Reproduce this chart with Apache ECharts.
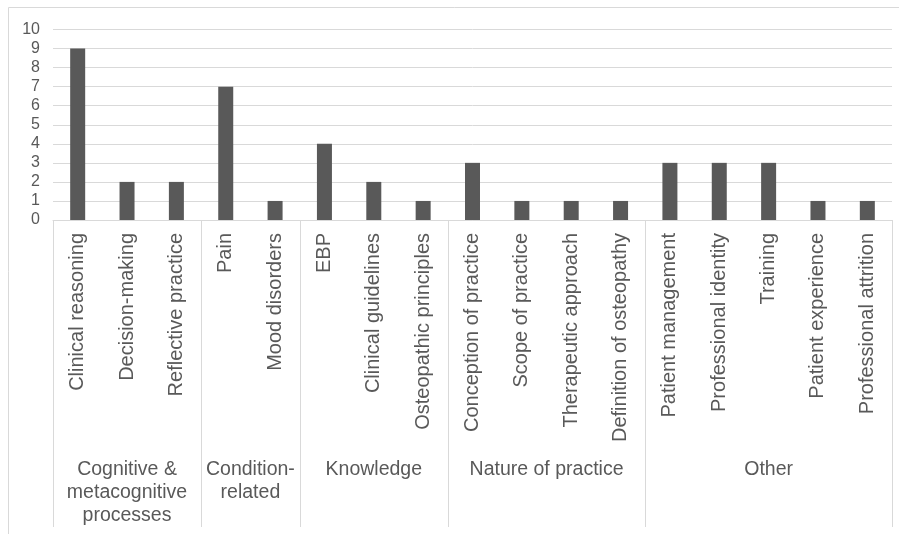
<!DOCTYPE html>
<html>
<head>
<meta charset="utf-8">
<script src="https://cdn.jsdelivr.net/npm/echarts@6/dist/echarts.min.js"></script>
<style>
 html, body { margin: 0; padding: 0; background: #fff; }
 #chart { width: 899px; height: 534px; }
</style>
</head>
<body>
<div id="chart"></div>
<script>
var categories = ['Clinical reasoning', 'Decision-making', 'Reflective practice',
  'Pain', 'Mood disorders',
  'EBP', 'Clinical guidelines', 'Osteopathic principles',
  'Conception of practice', 'Scope of practice', 'Therapeutic approach', 'Definition of osteopathy',
  'Patient management', 'Professional identity', 'Training', 'Patient experience', 'Professional attrition'];
var counts = [9, 2, 2, 7, 1, 4, 2, 1, 3, 1, 1, 1, 3, 3, 3, 1, 1];
var groupNames = ['Cognitive &\nmetacognitive\nprocesses', 'Condition-\nrelated', 'Knowledge', 'Nature of practice', 'Other'];
var groupSizes = [3, 2, 3, 4, 5];
var yMax = 10;

window.onload = function () {
  var font = 'Liberation Sans, Arial, sans-serif';
  var textColor = '#595959';
  var lineColor = '#d9d9d9';
  var chart = echarts.init(document.getElementById('chart'));

  var option = {
    animation: false,
    grid: { left: 53, right: 7, top: 29.5, bottom: 314, containLabel: false },
    xAxis: {
      type: 'category',
      data: categories,
      axisLine: { lineStyle: { color: lineColor } },
      axisTick: { show: false },
      axisLabel: {
        interval: 0,
        rotate: 90,
        margin: 13,
        color: textColor,
        fontSize: 20,
        fontFamily: font
      }
    },
    yAxis: {
      type: 'value',
      min: 0,
      max: yMax,
      interval: 1,
      axisLine: { show: false },
      axisTick: { show: false },
      axisLabel: { color: textColor, fontSize: 16, fontFamily: font, margin: 13 },
      splitLine: { lineStyle: { color: lineColor, width: 1 } }
    },
    series: [{
      type: 'bar',
      data: counts,
      barWidth: 15,
      itemStyle: { color: '#595959' }
    }]
  };
  chart.setOption(option);

  // group separators and labels under the category axis
  var c0 = chart.convertToPixel({ xAxisIndex: 0 }, 0);
  var c1 = chart.convertToPixel({ xAxisIndex: 0 }, 1);
  var band = c1 - c0;
  var axisY = chart.convertToPixel({ yAxisIndex: 0 }, 0);
  var bottomY = 527;
  var graphics = [{
    type: 'rect',
    shape: { x: 8.5, y: 7.5, width: 900, height: 540 },
    style: { fill: 'none', stroke: lineColor, lineWidth: 1 },
    silent: true
  }];
  var start = 0;
  var edgeX = c0 - band / 2;
  graphics.push({
    type: 'line',
    shape: { x1: Math.round(edgeX) + 0.5, y1: axisY, x2: Math.round(edgeX) + 0.5, y2: bottomY },
    style: { stroke: lineColor, lineWidth: 1 }
  });
  for (var g = 0; g < groupSizes.length; g++) {
    var end = start + groupSizes[g];
    var left = c0 + (start - 0.5) * band;
    var right = c0 + (end - 0.5) * band;
    graphics.push({
      type: 'line',
      shape: { x1: Math.round(right) + 0.5, y1: axisY, x2: Math.round(right) + 0.5, y2: bottomY },
      style: { stroke: lineColor, lineWidth: 1 }
    });
    graphics.push({
      type: 'text',
      x: (left + right) / 2,
      y: 458,
      style: {
        text: groupNames[g],
        fill: textColor,
        fontSize: 19.5,
        fontFamily: font,
        align: 'center',
        verticalAlign: 'top',
        lineHeight: 23
      }
    });
    start = end;
  }
  chart.setOption({ graphic: graphics });
};
</script>
</body>
</html>
